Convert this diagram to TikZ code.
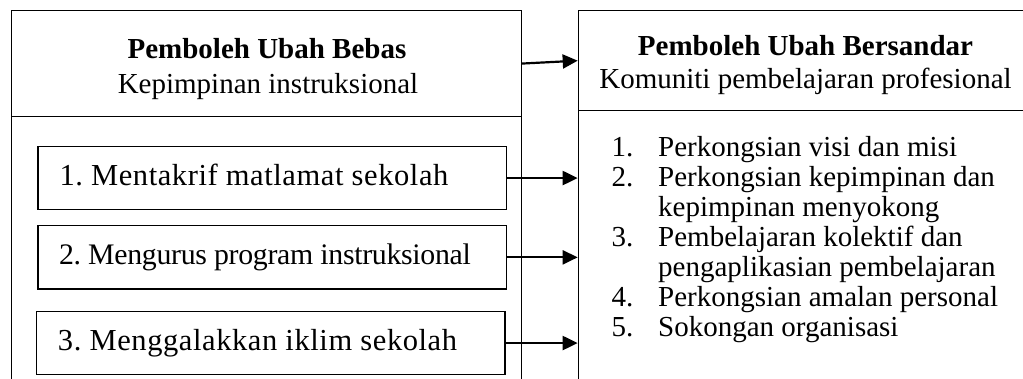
\documentclass[tikz,border=0pt]{standalone}
\usepackage{fontspec}
\setmainfont{Liberation Serif}
\usetikzlibrary{arrows.meta,calc}
\frenchspacing
\begin{document}
\begin{tikzpicture}[x=1pt,y=-1pt,
  frame/.style={draw=black,line width=1.4pt,inner sep=0pt,anchor=north west},
  item/.style={frame,align=flush left,text width=468.4pt,inner xsep=0pt,inner ysep=0pt,
    text height=21pt,text depth=7pt,minimum height=63.3pt,
    font=\fontsize{30.5}{34}\selectfont\frenchspacing},
  lbl/.style={anchor=base,inner sep=0pt,font=\fontsize{29}{35}\selectfont},
  arr/.style={line width=2.2pt,-{Triangle[length=15pt,width=14pt]}}]
\useasboundingbox (0,0) rectangle (1023,378);
% left column
\node[frame,minimum width=510pt,minimum height=105.7pt] (lh) at (10.7,10) {};
\node[frame,minimum width=510pt,minimum height=290pt] (ll) at (10.7,115.7) {};
\node[lbl] (lht) at (267,58.3) {\bfseries Pemboleh Ubah Bebas};
\node[lbl] (lhs) at (268,93.3) {Kepimpinan instruksional};
\node[item] (b1) at (37.3,145.7) {\hspace*{21.5pt}\addfontfeatures{LetterSpace=1.9}1. Mentakrif matlamat sekolah};
\node[item] (b2) at (37.3,225) {\hspace*{21pt}\fontsize{29.8}{34}\selectfont\addfontfeatures{LetterSpace=-1}2. Mengurus program instruksional};
\node[item] (b3) at (36,310.7) {\hspace*{21.3pt}\addfontfeatures{LetterSpace=1.9}3. Menggalakkan iklim sekolah};
% right column
\node[frame,minimum width=470pt,minimum height=100pt] (rh) at (577.7,10) {};
\node[frame,minimum width=470pt,minimum height=295pt] (rl) at (577.7,110) {};
\node[lbl] (rht) at (805.5,55) {\bfseries Pemboleh Ubah Bersandar};
\node[lbl] (rhs) at (805.5,88.3) {Komuniti pembelajaran profesional};
\node[anchor=base west,inner sep=0pt,font=\fontsize{29}{30}\selectfont] (list) at (611.5,156.5)
 {\begin{tabular}[t]{@{}p{46.5pt}@{}l@{}}
 1.& Perkongsian visi dan misi\\
 2.& Perkongsian kepimpinan dan\\
   & kepimpinan menyokong\\
 3.& Pembelajaran kolektif dan\\
   & pengaplikasian pembelajaran\\
 4.& Perkongsian amalan personal\\
 5.& Sokongan organisasi
 \end{tabular}};
% connectors
\draw[arr] (lh.east) -- (rh.west);
\draw[arr] (b1.east) -- (b1.east -| rl.west);
\draw[arr] (b2.east) -- (b2.east -| rl.west);
\draw[arr] (b3.east) -- (b3.east -| rl.west);
\end{tikzpicture}
\end{document}
